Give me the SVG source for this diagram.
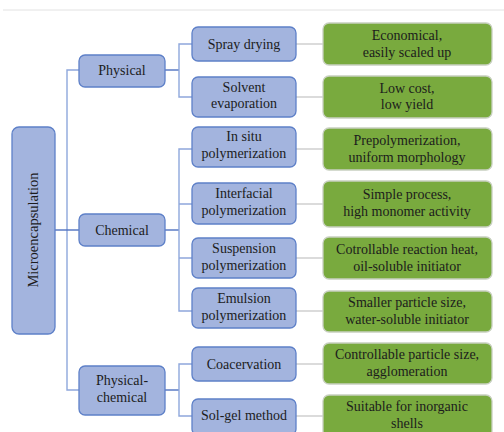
<svg xmlns="http://www.w3.org/2000/svg" width="504" height="432" viewBox="0 0 504 432">
<style>
.b{fill:#a3b4de;stroke:#5e80c8;stroke-width:1.3}
.g{fill:#79aa3e;stroke:#c8d0c0;stroke-width:1.3}
text{font-family:"Liberation Serif",serif;font-size:14px;fill:#1c1c1c;text-anchor:middle}
.c1{stroke:#4f72c0;stroke-width:1.4;fill:none}
.c2{stroke:#8ea7dc;stroke-width:1.4;fill:none}
.c3{stroke:#d0d0d0;stroke-width:1.4;fill:none}
</style>
<rect width="504" height="432" fill="#fff"/>
<line x1="3" y1="10" x2="504" y2="10" stroke="#e2e2e2" stroke-width="1"/>
<g id="connectors">
<path class="c2" d="M79 70H67V390H79"/>
<path class="c1" d="M55 230H79"/>
<path class="c1" d="M165 70H179"/>
<path class="c2" d="M192 44H179V97H192"/>
<path class="c1" d="M165 230H179"/>
<path class="c2" d="M192 149H179V311H192M179 204H192M179 258H192"/>
<path class="c1" d="M165 390H179"/>
<path class="c2" d="M192 364H179V416H192"/>
<path class="c3" d="M296 44H323M296 97H323M296 149H323M296 204H323M296 258H323M296 311H323M296 364H323M296 416H323"/>
</g>
<g id="microencapsulation"><rect class="b" x="12" y="127" width="43" height="207" rx="7"/><text transform="translate(38 230) rotate(-90)" style="font-size:14.5px">Microencapsulation</text></g>
<g id="physical"><rect class="b" x="79" y="55" width="86" height="32" rx="6"/><text x="122" y="75">Physical</text></g>
<g id="chemical"><rect class="b" x="79" y="214" width="86" height="32" rx="6"/><text x="122" y="235">Chemical</text></g>
<g id="physical-chemical"><rect class="b" x="79" y="366" width="86" height="49" rx="6"/><text x="122" y="385">Physical-</text><text x="122" y="402">chemical</text></g>
<g id="spray"><rect class="b" x="192" y="27" width="104" height="34" rx="6"/><text x="244" y="49">Spray drying</text></g>
<g id="solvent"><rect class="b" x="192" y="77" width="104" height="40" rx="6"/><text x="244" y="92">Solvent</text><text x="244" y="108">evaporation</text></g>
<g id="insitu"><rect class="b" x="192" y="127" width="104" height="40" rx="6"/><text x="244" y="141">In situ</text><text x="244" y="158">polymerization</text></g>
<g id="interfacial"><rect class="b" x="192" y="183" width="104" height="41" rx="6"/><text x="244" y="198">Interfacial</text><text x="244" y="215">polymerization</text></g>
<g id="suspension"><rect class="b" x="192" y="238" width="104" height="40" rx="6"/><text x="244" y="253">Suspension</text><text x="244" y="270">polymerization</text></g>
<g id="emulsion"><rect class="b" x="192" y="288" width="104" height="40" rx="6"/><text x="244" y="303">Emulsion</text><text x="244" y="320">polymerization</text></g>
<g id="coacervation"><rect class="b" x="192" y="347" width="104" height="34" rx="6"/><text x="244" y="369">Coacervation</text></g>
<g id="solgel"><rect class="b" x="192" y="399" width="104" height="36" rx="6"/><text x="244" y="420">Sol-gel method</text></g>
<g id="g-spray"><rect class="g" x="323" y="23" width="169" height="42" rx="6"/><text x="407" y="40">Economical,</text><text x="407" y="57">easily scaled up</text></g>
<g id="g-solvent"><rect class="g" x="323" y="76" width="169" height="42" rx="6"/><text x="407" y="93">Low cost,</text><text x="407" y="109">low yield</text></g>
<g id="g-insitu"><rect class="g" x="323" y="128" width="169" height="42" rx="6"/><text x="407" y="145">Prepolymerization,</text><text x="407" y="162">uniform morphology</text></g>
<g id="g-interfacial"><rect class="g" x="323" y="181" width="169" height="46" rx="6"/><text x="407" y="199">Simple process,</text><text x="407" y="216">high monomer activity</text></g>
<g id="g-suspension"><rect class="g" x="323" y="237" width="169" height="42" rx="6"/><text x="407" y="254">Cotrollable reaction heat,</text><text x="407" y="271">oil-soluble initiator</text></g>
<g id="g-emulsion"><rect class="g" x="323" y="291" width="169" height="41" rx="6"/><text x="407" y="307">Smaller particle size,</text><text x="407" y="324">water-soluble initiator</text></g>
<g id="g-coacervation"><rect class="g" x="323" y="343" width="169" height="41" rx="6"/><text x="407" y="359">Controllable particle size,</text><text x="407" y="376">agglomeration</text></g>
<g id="g-solgel"><rect class="g" x="323" y="395" width="169" height="42" rx="6"/><text x="407" y="411">Suitable for inorganic</text><text x="407" y="428">shells</text></g>
</svg>
